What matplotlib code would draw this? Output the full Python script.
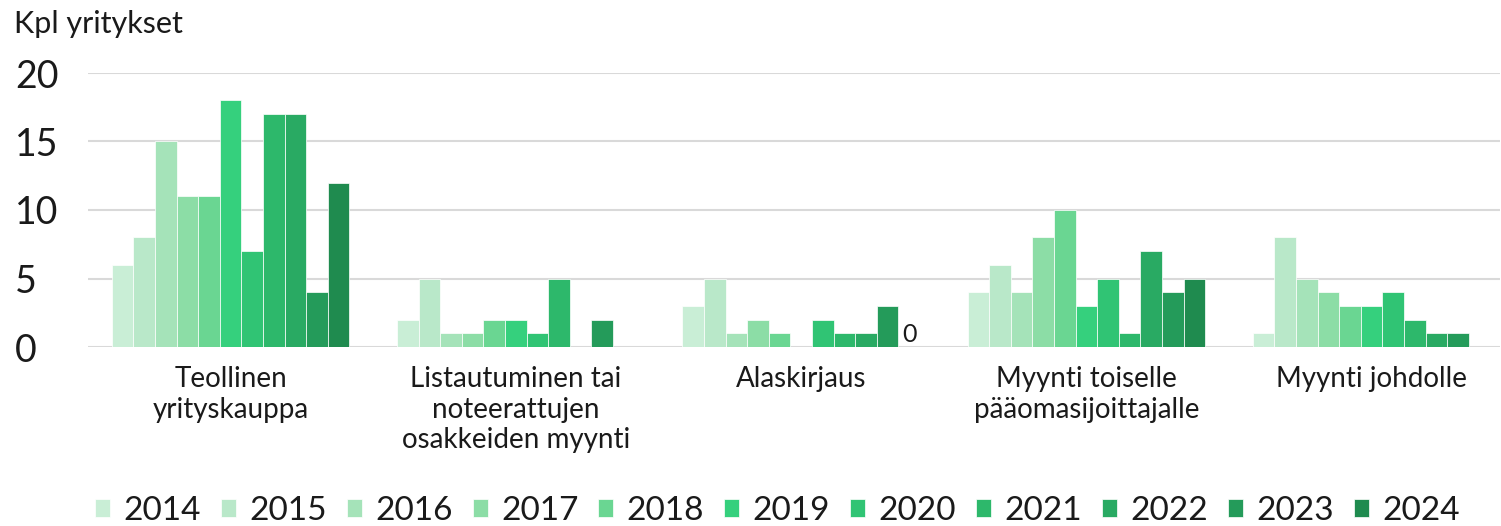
import numpy as np
import matplotlib
matplotlib.use("Agg")
import matplotlib.pyplot as plt

plt.rcParams['font.family'] = ['Lato', 'DejaVu Sans']

# data
categories = ["Teollinen\nyrityskauppa",
              "Listautuminen tai\nnoteerattujen\nosakkeiden myynti",
              "Alaskirjaus",
              "Myynti toiselle\npääomasijoittajalle",
              "Myynti johdolle"]
years = ["2014", "2015", "2016", "2017", "2018", "2019",
         "2020", "2021", "2022", "2023", "2024"]
teollinen = [6, 8, 15, 11, 11, 18, 7, 17, 17, 4, 12]
listautuminen = [2, 5, 1, 1, 2, 2, 1, 5, 0, 2, 0]
alaskirjaus = [3, 5, 1, 2, 1, 0, 2, 1, 1, 3, 0]
myynti_toiselle = [4, 6, 4, 8, 10, 3, 5, 1, 7, 4, 5]
myynti_johdolle = [1, 8, 5, 4, 3, 3, 4, 2, 1, 1, 0]

colors = ["#c9eed6", "#b9e8c9", "#a5e3b9", "#8cdda6", "#6ad692", "#35d07d",
          "#30c474", "#2db86b", "#29aa63", "#249b5a", "#1f8b4f"]

values = np.array([teollinen, listautuminen, alaskirjaus,
                   myynti_toiselle, myynti_johdolle])  # rows = category

fig = plt.figure(figsize=(15.01, 5.26), dpi=100)
ax = fig.add_axes([88/1501, 1-347/526, 1412/1501, 274/526])

x = np.arange(len(categories))
w = 21.6/285.3
n = len(years)
for j, yr in enumerate(years):
    pos = x + (j - (n-1)/2) * w
    ax.bar(pos, values[:, j], width=w, color=colors[j], edgecolor="white",
           linewidth=0.5, label=yr, zorder=3)

# zero label on Alaskirjaus 2024
ax.text(2 + (n-1)/2*w, 0.05, "0", ha="center", va="bottom", fontsize=18,
        color="#1a1a1a", zorder=4)

ax.set_xlim(-0.5, 4.45)
ax.set_ylim(0, 20)
ax.set_yticks([0, 5, 10, 15, 20])
ax.yaxis.grid(True, color="#d9d9d9", linewidth=1.5, zorder=0)
ax.set_axisbelow(True)
for s in ax.spines.values():
    s.set_visible(False)
ax.tick_params(axis="y", length=0, pad=52.5, labelsize=27, labelcolor="#1a1a1a")
for lab in ax.get_yticklabels():
    lab.set_horizontalalignment("left")
ax.set_xticks(x)
ax.set_xticklabels(categories, fontsize=20, linespacing=1.2, color="#1a1a1a",
                   va="top")
ax.tick_params(axis="x", length=0, pad=14)

fig.text(14/1501, 1-24/526, "Kpl yritykset", fontsize=22, va="center",
         ha="left", color="#1a1a1a")

fig.legend(loc="center", bbox_to_anchor=(0.518, 1-511/526), ncol=11,
           frameon=False, fontsize=24, handlelength=0.45, handleheight=0.45,
           handletextpad=0.4, columnspacing=0.6, labelcolor="#1a1a1a")

fig.savefig("out.png", dpi=100)
